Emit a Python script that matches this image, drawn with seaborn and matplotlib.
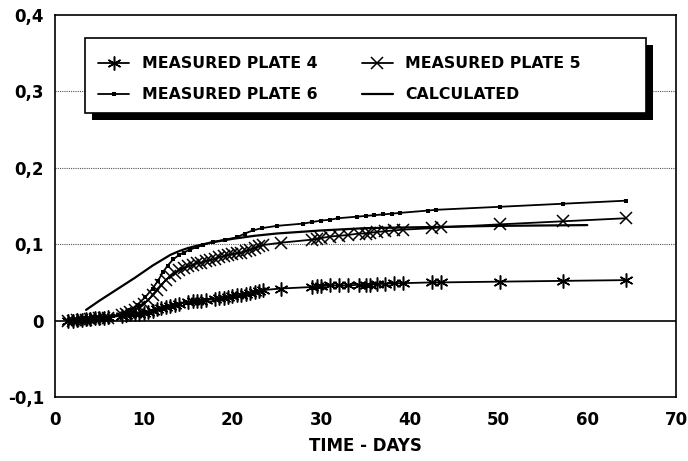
import matplotlib
matplotlib.use("Agg")
import matplotlib.pyplot as plt
import seaborn as sns
import pandas as pd
from matplotlib.patches import Rectangle
from matplotlib.ticker import FuncFormatter

# ---- data ----
days_p4 = [1.5, 2, 2.5, 3, 3.5, 4, 4.5, 5, 5.5, 6, 7.5, 8, 8.5, 9, 9.5, 10, 10.5, 11, 11.5, 12,
           12.5, 13, 13.5, 14, 15, 15.5, 16, 16.5, 17, 18, 18.5, 19, 19.5, 20, 20.5, 21, 21.5, 22,
           22.5, 23, 23.5, 25.5, 29, 29.5, 30, 31, 32, 33, 34.3, 35, 35.5, 36.3, 37.2, 38.2, 39.2,
           42.5, 43.5, 50.2, 57.3, 64.4]
vals_p4 = [0.000, 0.000, 0.001, 0.001, 0.002, 0.002, 0.003, 0.004, 0.004, 0.005, 0.006, 0.007,
           0.008, 0.009, 0.009, 0.010, 0.011, 0.013, 0.015, 0.016, 0.018, 0.019, 0.021, 0.022,
           0.024, 0.025, 0.026, 0.026, 0.027, 0.028, 0.029, 0.030, 0.031, 0.032, 0.033, 0.034,
           0.035, 0.036, 0.038, 0.039, 0.040, 0.042, 0.044, 0.045, 0.045, 0.046, 0.046, 0.046,
           0.047, 0.046, 0.047, 0.048, 0.048, 0.049, 0.049, 0.050, 0.050, 0.051, 0.052, 0.053]

days_p5 = [1.5, 2, 2.5, 3, 3.5, 4, 4.5, 5, 5.5, 6, 7.5, 8, 8.5, 9, 9.5, 10, 10.5, 11, 11.5, 12,
           12.5, 13, 13.5, 14, 14.5, 15, 15.5, 16, 16.5, 17, 17.5, 18, 18.5, 19, 19.5, 20, 20.5,
           21, 21.5, 22, 22.5, 23, 23.5, 25.5, 29, 29.5, 30, 31, 32, 33, 34.3, 35, 35.5, 36.3,
           37.2, 38.2, 39.2, 42.5, 43.5, 50.2, 57.3, 64.4]
vals_p5 = [0.000, 0.000, 0.001, 0.001, 0.001, 0.002, 0.002, 0.003, 0.003, 0.004, 0.007, 0.009,
           0.011, 0.014, 0.018, 0.022, 0.027, 0.033, 0.040, 0.047, 0.053, 0.058, 0.062, 0.066,
           0.069, 0.071, 0.073, 0.075, 0.076, 0.078, 0.079, 0.081, 0.083, 0.084, 0.086, 0.087,
           0.088, 0.089, 0.091, 0.093, 0.095, 0.097, 0.099, 0.102, 0.106, 0.107, 0.108, 0.110,
           0.111, 0.112, 0.114, 0.114, 0.115, 0.116, 0.117, 0.118, 0.119, 0.121, 0.122, 0.126,
           0.130, 0.134]

days_p6 = [1.5, 2.5, 3.5, 4.5, 5.5, 6.5, 7.5, 8.5, 9.3, 10.2, 11, 11.6, 12.2, 12.7, 13.3, 14,
           14.5, 15.2, 16, 16.7, 17.8, 19.2, 20.5, 21.4, 22.3, 23.3, 25, 28, 29, 30, 31, 31.9,
           34, 35, 36, 37, 38, 38.9, 42, 42.9, 50.2, 57.3, 64.4]
vals_p6 = [0.000, 0.001, 0.002, 0.003, 0.004, 0.006, 0.009, 0.014, 0.021, 0.031, 0.042, 0.052,
           0.064, 0.072, 0.080, 0.086, 0.089, 0.093, 0.096, 0.099, 0.103, 0.106, 0.109, 0.114,
           0.118, 0.121, 0.124, 0.127, 0.129, 0.131, 0.132, 0.134, 0.136, 0.137, 0.138, 0.139,
           0.140, 0.141, 0.144, 0.145, 0.149, 0.153, 0.157]

days_calc = [3.5, 5, 7, 9, 10, 11, 12, 13, 14, 15, 16, 17.5, 20, 22.5, 25, 30, 35, 40, 45, 50,
             55, 60]
vals_calc = [0.014, 0.026, 0.041, 0.056, 0.064, 0.072, 0.079, 0.086, 0.091, 0.095, 0.098,
             0.102, 0.107, 0.111, 0.114, 0.118, 0.121, 0.122, 0.123, 0.124, 0.1245, 0.125]

labels = ["MEASURED PLATE 4", "MEASURED PLATE 5", "MEASURED PLATE 6", "CALCULATED"]
x_ticks = [0, 10, 20, 30, 40, 50, 60, 70]
y_ticks = [-0.1, 0, 0.1, 0.2, 0.3, 0.4]
x_label = "TIME - DAYS"

# ---- style ----
sns.set_theme(style="white")
plt.rcParams["font.family"] = ["DejaVu Sans"]
plt.rcParams["font.weight"] = "bold"
for k in ["text.color", "axes.labelcolor", "xtick.color", "ytick.color"]:
    plt.rcParams[k] = "black"

W, H = 688, 461
fig = plt.figure(figsize=(W / 100, H / 100), dpi=100)
ax = fig.add_axes([55 / W, 1 - 397 / H, (676 - 55) / W, (397 - 15) / H])

# gridlines
for yv in [0.1, 0.2, 0.3]:
    ax.axhline(yv, color="#555555", lw=0.8, ls=(0, (1, 1)), zorder=1)
ax.axhline(0, color="black", lw=1.2, zorder=1)

df4 = pd.DataFrame({"day": days_p4, "val": vals_p4})
df5 = pd.DataFrame({"day": days_p5, "val": vals_p5})
df6 = pd.DataFrame({"day": days_p6, "val": vals_p6})
dfc = pd.DataFrame({"day": days_calc, "val": vals_calc})

sns.lineplot(data=df4, x="day", y="val", ax=ax, color="black", lw=1.3,
             marker=(6, 2, 0), markersize=10, markeredgewidth=1.1, markeredgecolor="black",
             label=labels[0], zorder=3)
sns.lineplot(data=df5, x="day", y="val", ax=ax, color="black", lw=1.3,
             marker="x", markersize=9, markeredgewidth=1.1, markeredgecolor="black",
             label=labels[1], zorder=3)
sns.lineplot(data=df6, x="day", y="val", ax=ax, color="black", lw=1.3,
             marker="s", markersize=3, markeredgewidth=0, markerfacecolor="black",
             label=labels[2], zorder=3)
sns.lineplot(data=dfc, x="day", y="val", ax=ax, color="black", lw=1.6,
             label=labels[3], zorder=3)

ax.set_xlim(0, 70)
ax.set_ylim(-0.1, 0.4)
ax.set_xticks(x_ticks)
ax.set_yticks(y_ticks)
ax.yaxis.set_major_formatter(FuncFormatter(lambda v, p: ("%g" % round(v, 2)).replace(".", ",")))
ax.tick_params(axis="both", direction="in", length=6, width=1, color="black", labelsize=12)
ax.tick_params(axis="x", pad=10)
ax.tick_params(axis="y", pad=8)
for lab in ax.get_xticklabels() + ax.get_yticklabels():
    lab.set_fontweight("bold")
ax.set_xlabel(x_label, fontsize=12, fontweight="bold", labelpad=6)
ax.set_ylabel("")
for s in ax.spines.values():
    s.set_color("black")
    s.set_linewidth(1.2)

# legend: own frame with heavy drop shadow
handles, labs = ax.get_legend_handles_labels()
order = [0, 2, 1, 3]  # row-wise: P4, P5 / P6, CALC
leg = ax.legend([handles[i] for i in order], [labs[i] for i in order],
                loc="upper left", bbox_to_anchor=(98 / W, 1 - 56 / H),
                bbox_transform=fig.transFigure, ncol=2, frameon=False,
                borderaxespad=0, borderpad=0, fontsize=11.3,
                handlelength=2.0, handletextpad=0.8, columnspacing=2.8,
                labelspacing=1.05)
for t in leg.get_texts():
    t.set_fontweight("bold")
    t.set_color("black")
leg.set_zorder(7)
shadow = Rectangle((92 / W, 1 - 120 / H), 561 / W, 75 / H, transform=fig.transFigure,
                   facecolor="black", edgecolor="none", zorder=6)
frame = Rectangle((85 / W, 1 - 113 / H), 561 / W, 75 / H, transform=fig.transFigure,
                  facecolor="white", edgecolor="black", lw=1.2, zorder=6.5)
ax.add_patch(shadow)
ax.add_patch(frame)
shadow.set_clip_on(False)
frame.set_clip_on(False)

fig.savefig("out.png", dpi=100)
